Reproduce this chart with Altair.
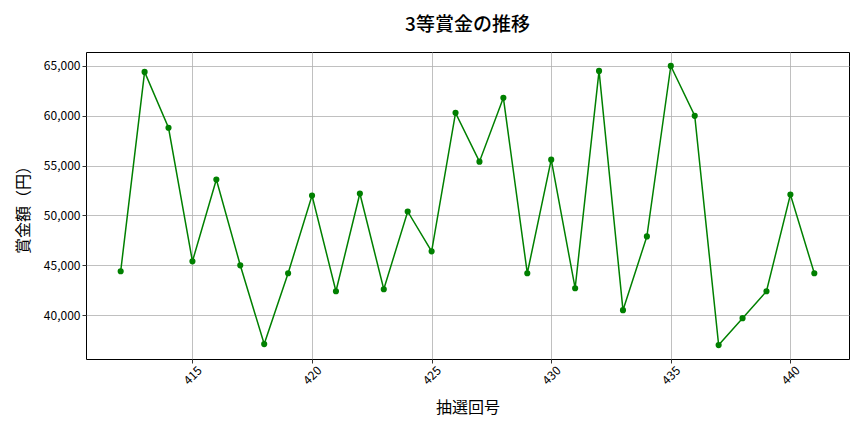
import altair as alt
import pandas as pd

draws = list(range(412, 442))
prizes = [44400, 64400, 58800, 45400, 53600, 45000, 37100, 44200, 52000, 42400,
          52200, 42600, 50400, 46400, 60300, 55400, 61800, 44200, 55600, 42700,
          64500, 40500, 47900, 65000, 60000, 37000, 39700, 42400, 52100, 44200]
x_ticks = [415, 420, 425, 430, 435, 440]
y_ticks = [40000, 45000, 50000, 55000, 60000, 65000]

df = pd.DataFrame({"draw": draws, "prize": prizes})
FONT = "Noto Sans CJK JP"

x = alt.X("draw:Q", title="抽選回号",
          scale=alt.Scale(domain=[410.55, 442.45], nice=False, zero=False),
          axis=alt.Axis(values=x_ticks, labelAngle=-45, labelAlign="center",
                        labelBaseline="middle", labelPadding=12, format="d",
                        titlePadding=13))
y = alt.Y("prize:Q", title="賞金額（円）",
          scale=alt.Scale(domain=[35600, 66400], nice=False, zero=False),
          axis=alt.Axis(values=y_ticks, format=",d", titlePadding=12))

base = alt.Chart(df).encode(x=x, y=y)
line = base.mark_line(color="#008000", strokeWidth=1.5)
pts = base.mark_circle(color="#008000", size=38, opacity=1)

chart = (line + pts).properties(
    width=763, height=307,
    title=alt.TitleParams("3等賞金の推移", font=FONT, fontSize=19, fontWeight=500,
                          anchor="middle", offset=17, color="black"),
    autosize=alt.AutoSizeParams(type="none"),
    padding={"left": 78, "top": 44, "right": 7, "bottom": 65},
).configure_view(stroke="black", strokeWidth=1).configure_axis(
    labelFont=FONT, titleFont=FONT, labelFontSize=12, titleFontSize=16,
    titleFontWeight="normal", labelColor="black", titleColor="black",
    gridColor="#b0b0b0", gridWidth=0.8, domain=False,
    tickColor="black", tickSize=4, tickWidth=0.8,
)

chart.save("out.html", embed_options={"renderer": "svg", "actions": False})
